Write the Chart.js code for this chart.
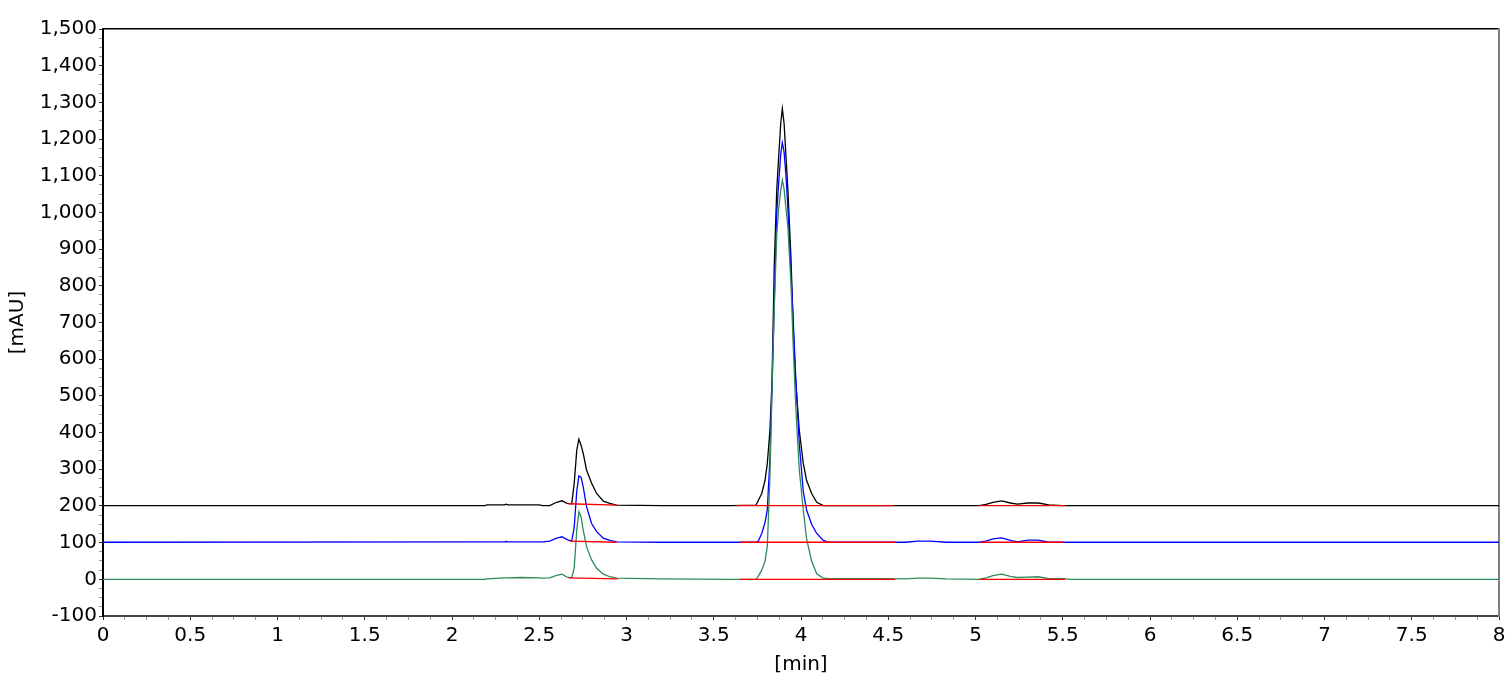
<!DOCTYPE html>
<html>
<head>
<meta charset="utf-8">
<title>Chromatogram</title>
<script src="https://cdn.jsdelivr.net/npm/chart.js@4.4.1/dist/chart.umd.min.js"></script>
<style>
  html, body { margin: 0; padding: 0; background: #fff; }
  #wrap { width: 1512px; height: 688px; }
</style>
</head>
<body>
<div id="wrap"><canvas id="chart-chrom" width="1512" height="688"></canvas></div>
<script>
'use strict';

/* 기본 폰트 */
Chart.defaults.font.family = "'DejaVu Sans', sans-serif";
Chart.defaults.font.size   = 20;
Chart.defaults.color       = '#000';

const COLORS = {
  black : '#000000',
  blue  : '#0000ff',
  green : '#2e8b57',
  base  : '#ff0000',
};

/* ── 시간축 (min) ── */
const timeMin = [
  0, 2.19, 2.2, 2.3, 2.31, 2.32, 2.4, 2.5, 2.52, 2.56,
  2.6, 2.63, 2.66, 2.686, 2.7, 2.715, 2.727, 2.74, 2.752, 2.771,
  2.8, 2.829, 2.867, 2.905, 2.943, 3.2, 3.6, 3.742, 3.755, 3.775,
  3.794, 3.807, 3.822, 3.834, 3.847, 3.861, 3.872, 3.884, 3.893, 3.903,
  3.914, 3.925, 3.943, 3.956, 3.969, 3.99, 4.013, 4.032, 4.061, 4.09,
  4.128, 4.16, 4.44, 4.6, 4.67, 4.74, 4.83, 5.02, 5.06, 5.1,
  5.15, 5.2, 5.24, 5.3, 5.36, 5.42, 5.5, 5.55, 8,
];

/* ── 신호 (mAU) ── */
const blackMau = [
  201, 201, 203, 203, 205, 203, 203, 203, 201, 201,
  210, 214, 207, 206, 260, 352, 382, 365, 343, 298,
  262, 234, 213, 207, 202, 201, 201, 202, 215, 234,
  270, 316, 407, 543, 860, 1061, 1152, 1243, 1283, 1243,
  1152, 1061, 870, 679, 543, 407, 316, 270, 234, 210,
  201, 201, 201, 201, 201, 201, 201, 201, 204, 210,
  214, 208, 205, 208, 208, 203, 201, 201, 201,
];
const blueMau = [
  101, 102, 102, 102, 103, 102, 102, 102, 102, 104,
  112, 116, 108, 104, 140, 240, 282, 278, 252, 198,
  152, 130, 112, 106, 102, 101, 101, 101, 104, 125,
  155, 190, 330, 520, 760, 1000, 1080, 1160, 1190, 1165,
  1100, 1010, 830, 700, 560, 370, 240, 189, 150, 125,
  106, 101, 101, 101, 104, 104, 101, 101, 104, 110,
  113, 106, 102, 107, 107, 101, 101, 101, 101,
];
const greenMau = [
  0, 0, 1, 4, 4, 4, 5, 4, 3, 4,
  11, 14, 6, 4, 30, 134, 184, 170, 134, 89,
  53, 30, 14, 7, 3, 1, 0, 0, 8, 25,
  50, 90, 280, 520, 740, 940, 1010, 1060, 1088, 1065,
  1010, 960, 800, 630, 480, 300, 189, 110, 50, 15,
  3, 2, 2, 1, 3, 3, 1, 0, 4, 10,
  14, 8, 5, 6, 7, 2, 2, 0, 0,
];

/* ── 적분 베이스라인 (시작/끝 쌍) ── */
const blackCutT = [2.667, 2.943, 3.631, 4.529, 5.022, 5.513];
const blackCutY = [206, 202, 201, 201, 201, 201];
const blueCutT  = [2.676, 2.943, 3.65, 4.54, 5.022, 5.5];
const blueCutY  = [104, 101, 101, 101, 101, 101];
const greenCutT = [2.667, 2.95, 3.65, 4.54, 5.022, 5.513];
const greenCutY = [4, 1, 0, 0, 0, 0];

/* ── 눈금 ── */
const xLabelStep = 0.5;
const xMinorStep = 0.125;
const yLabelStep = 100;
const yMinorStep = 25;

function toPoints(ts, ys) {
  return ts.map((t, i) => ({ x: t, y: ys[i] }));
}

function toSegments(ts, ys) {
  const pts = [];
  for (let i = 0; i < ts.length; i += 2) {
    pts.push({ x: ts[i], y: ys[i] }, { x: ts[i + 1], y: ys[i + 1] });
    if (i + 2 < ts.length) pts.push({ x: ts[i + 1], y: null });
  }
  return pts;
}

const isMultiple = (v, step) => Math.abs(v / step - Math.round(v / step)) < 1e-6;

function trace(data, color, order) {
  return {
    data, borderColor: color, borderWidth: 1.3,
    pointRadius: 0, tension: 0, fill: false, order, spanGaps: false,
  };
}

function drawChromatogram() {
  const canvas = document.getElementById('chart-chrom');
  if (!canvas) return;

  new Chart(canvas, {
    type: 'line',
    data: {
      datasets: [
        trace(toSegments(blackCutT, blackCutY), COLORS.base, 0),
        trace(toSegments(blueCutT,  blueCutY),  COLORS.base, 0),
        trace(toSegments(greenCutT, greenCutY), COLORS.base, 0),
        trace(toPoints(timeMin, greenMau), COLORS.green, 1),
        trace(toPoints(timeMin, blueMau),  COLORS.blue,  2),
        trace(toPoints(timeMin, blackMau), COLORS.black, 3),
      ],
    },
    options: {
      responsive: false, animation: false, devicePixelRatio: 1,
      layout: { padding: { top: 29, right: 13, left: 0, bottom: 0 } },
      plugins: { legend: { display: false }, tooltip: { enabled: false } },
      scales: {
        x: {
          type: 'linear', min: 0, max: 8,
          afterFit: s => { s.height = 72; },
          title: { display: true, text: '[min]', padding: { top: 0, bottom: 11 } },
          border: { display: true, color: '#444', width: 2 },
          grid: {
            drawOnChartArea: false, drawTicks: true, tickLength: 4,
            color: c => isMultiple(c.tick.value, xLabelStep) ? '#333' : '#999',
          },
          ticks: {
            stepSize: xMinorStep, autoSkip: false, maxRotation: 0, padding: 4,
            callback: v => isMultiple(v, xLabelStep) ? String(v) : '',
          },
        },
        y: {
          type: 'linear', min: -100, max: 1500,
          afterFit: s => { s.width = 103; },
          title: { display: true, text: '[mAU]', padding: { top: 6, bottom: 0 } },
          border: { display: true, color: '#000', width: 2 },
          grid: {
            drawOnChartArea: false, drawTicks: true, tickLength: 4,
            color: c => isMultiple(c.tick.value, yLabelStep) ? '#333' : '#999',
          },
          ticks: {
            stepSize: yMinorStep, autoSkip: false, padding: 2,
            callback: v => isMultiple(v, yLabelStep) ? v.toLocaleString('en-US') : '',
          },
        },
        xTop: {
          type: 'linear', position: 'top', min: 0, max: 8,
          afterFit: s => { s.height = 0; },
          border: { display: true, color: '#000', width: 1.5 },
          grid: { display: false, drawTicks: false },
          ticks: { display: false },
        },
        yRight: {
          type: 'linear', position: 'right', min: -100, max: 1500,
          afterFit: s => { s.width = 0; },
          border: { display: true, color: '#808080', width: 2 },
          grid: { display: false, drawTicks: false },
          ticks: { display: false },
        },
      },
    },
  });
}

document.addEventListener('DOMContentLoaded', drawChromatogram);
</script>
</body>
</html>
